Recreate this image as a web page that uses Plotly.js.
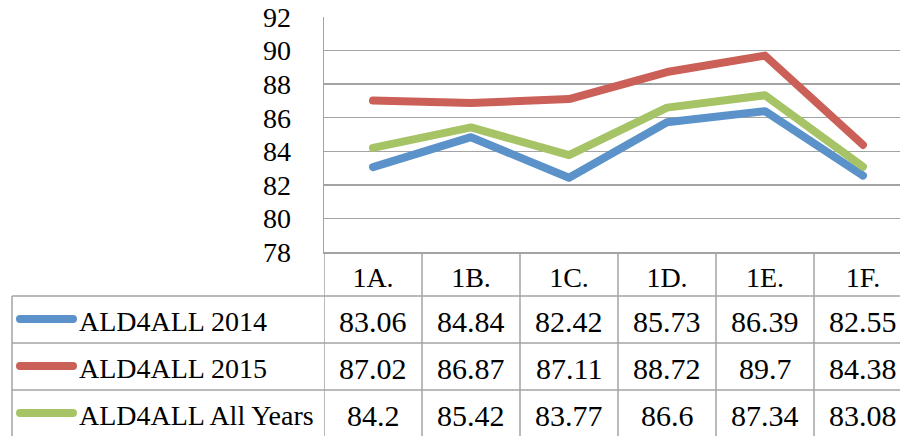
<!DOCTYPE html>
<html>
<head>
<meta charset="utf-8">
<script src="https://cdn.plot.ly/plotly-3.0.1.min.js"></script>
<style>
html,body{margin:0;padding:0;background:#fff;}
#chart{width:900px;height:436px;}
.scatterlayer path.js-line{stroke-linecap:round;stroke-linejoin:round;}
</style>
</head>
<body>
<div id="chart"></div>
<script>
// ---- data ----
const categories = ["1A.", "1B.", "1C.", "1D.", "1E.", "1F."];
const seriesNames = ["ALD4ALL 2014", "ALD4ALL 2015", "ALD4ALL All Years"];
const values2014 = [83.06, 84.84, 82.42, 85.73, 86.39, 82.55];
const values2015 = [87.02, 86.87, 87.11, 88.72, 89.7, 84.38];
const valuesAll = [84.2, 85.42, 83.77, 86.6, 87.34, 83.08];
const yTicks = [78, 80, 82, 84, 86, 88, 90, 92];

// ---- style ----
const colors = ["#5B92C9", "#CB6058", "#A6C366"];
const seriesValues = [values2014, values2015, valuesAll];
const FONT = "Liberation Serif";
const GRID = "#a3a3a3";

const W = 900, H = 436;
const M = {l: 324, r: 0, t: 17, b: 184};
const PW = W - M.l - M.r, PH = H - M.t - M.b;
const colW = 98;
const px2x = x => (x - M.l) / PW;           // pixel -> paper x
const px2y = y => (H - M.b - y) / PH;       // pixel -> paper y
const overflow = (M.l + categories.length * colW - W) / colW;

const rowTops = [296, 343, 390, 437];
const tableLeft = 12;

const traces = seriesValues.map((v, i) => ({
  type: "scatter", mode: "lines",
  x: categories, y: v, name: seriesNames[i],
  line: {color: colors[i], width: 8},
  hoverinfo: "skip", showlegend: false, cliponaxis: false
}));

const shapes = [];
const annotations = [];
rowTops.slice(0, 3).forEach(y => {
  shapes.push({type: "line", xref: "paper", yref: "paper",
    x0: px2x(tableLeft), x1: 1.05, y0: px2y(y), y1: px2y(y),
    line: {color: GRID, width: 1.5}});
});
shapes.push({type: "line", xref: "paper", yref: "paper",
  x0: px2x(tableLeft), x1: px2x(tableLeft), y0: px2y(rowTops[0]), y1: px2y(H + 2),
  line: {color: GRID, width: 1.5}});
for (let i = 0; i <= categories.length; i++) {
  shapes.push({type: "line", xref: "x", yref: "paper",
    x0: i - 0.5, x1: i - 0.5, y0: 0, y1: px2y(H + 2),
    line: {color: GRID, width: 1.5}});
}
seriesNames.forEach((name, r) => {
  const cy = (rowTops[r] + rowTops[r + 1]) / 2 - 0.5;
  const x0 = 20, x1 = 73, rad = 4;
  shapes.push({type: "line", xref: "paper", yref: "paper",
    x0: px2x(x0), x1: px2x(x1), y0: px2y(cy), y1: px2y(cy),
    line: {color: colors[r], width: 8}});
  [x0, x1].forEach(cx => shapes.push({type: "circle", xref: "paper", yref: "paper",
    x0: px2x(cx - rad), x1: px2x(cx + rad), y0: px2y(cy - rad), y1: px2y(cy + rad),
    fillcolor: colors[r], line: {width: 0}}));
  annotations.push({xref: "paper", yref: "paper", x: px2x(77), y: px2y(cy + 2),
    xanchor: "left", yanchor: "middle", text: name, showarrow: false,
    font: {family: FONT, size: 28, color: "#000"}});
  seriesValues[r].forEach((v, c) => {
    annotations.push({xref: "x", yref: "paper", x: c, y: px2y(cy + 2),
      xanchor: "center", yanchor: "middle", text: String(v), showarrow: false,
      font: {family: FONT, size: 30, color: "#000"}});
  });
});

const layout = {
  width: W, height: H,
  margin: M,
  paper_bgcolor: "#fff", plot_bgcolor: "#fff",
  showlegend: false,
  font: {family: FONT, color: "#000"},
  xaxis: {
    type: "category", categoryarray: categories,
    range: [-0.5, categories.length - 0.5 - overflow],
    showgrid: false, zeroline: false,
    showline: true, linecolor: GRID, linewidth: 1.5,
    ticks: "", ticklabelstandoff: 0,
    tickfont: {family: FONT, size: 28, color: "#000"}
  },
  yaxis: {
    range: [78, 92], tickvals: yTicks, ticktext: yTicks.map(String),
    showgrid: true, gridcolor: GRID, gridwidth: 1.5,
    zeroline: false, showline: true, linecolor: GRID, linewidth: 1.5,
    ticks: "", ticklabelstandoff: 26,
    tickfont: {family: FONT, size: 28, color: "#000"}
  },
  shapes: shapes,
  annotations: annotations
};

Plotly.newPlot("chart", traces, layout, {staticPlot: true, displayModeBar: false});
</script>
</body>
</html>
